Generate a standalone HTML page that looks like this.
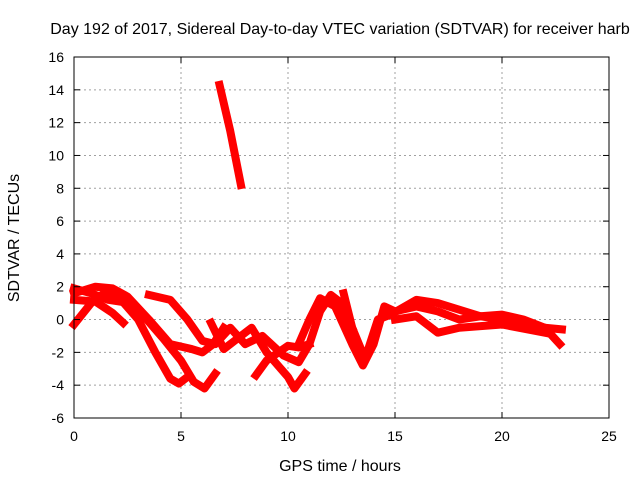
<!DOCTYPE html>
<html><head><meta charset="utf-8"><style>
body{margin:0;background:#fff}
text{font-family:"Liberation Sans",sans-serif;font-size:14px;fill:#000}
.big{font-size:16px}
</style></head><body>
<svg id="c" width="640" height="480" xmlns="http://www.w3.org/2000/svg">
<rect width="640" height="480" fill="#fff"/>
<text class="big" x="340" y="34" text-anchor="middle">Day 192 of 2017, Sidereal Day-to-day VTEC variation (SDTVAR) for receiver harb</text>
<text class="big" x="340" y="471" text-anchor="middle">GPS time / hours</text>
<text class="big" transform="translate(19,238) rotate(-90)" text-anchor="middle">SDTVAR / TECUs</text>
<g id="grid"></g><g id="series"></g><g id="axes"></g>
</svg>
<script>
const xTicks=[0,5,10,15,20,25];
const yTicks=[-6,-4,-2,0,2,4,6,8,10,12,14,16];
const trace1=[[0,-0.3],[0.8,1],[1.5,1.7],[2.2,1.2],[3,0],[3.8,-2],[4.5,-3.6],[4.9,-3.9],[5.3,-3.5]];
const trace2=[[0,1.9],[0.8,1.6],[1.6,1.2],[2.6,1],[3.4,0],[4.2,-1.2],[5,-2.5],[5.6,-3.8],[6.1,-4.2],[6.6,-3.3]];
const trace3=[[0,1.6],[1,2],[1.8,1.9],[2.5,1.4],[3.5,0],[4.5,-1.5],[5.5,-1.8],[6,-2],[6.5,-1.5],[7,-0.5]];
const trace4=[[3.5,1.5],[4.5,1.2],[5.3,0],[6,-1.3],[6.6,-1.5],[7.3,-0.5],[8,-1.5],[8.8,-1],[9.8,-2.2],[10.5,-2.6],[11,-1.5],[11.5,0.5],[12,1.5],[12.5,1],[13,-0.5]];
const trace5=[[0,1.2],[1,1.1],[1.8,0.4],[2.3,-0.2]];
const trace6=[[6.4,-0.2],[7,-1.8],[7.5,-1.3],[8.3,-0.5],[9,-2],[10,-3.5],[10.3,-4.2],[10.8,-3.3]];
const trace7=[[8.5,-3.4],[9,-2.5],[10,-1.6],[10.5,-1.7],[11,-1.5]];
const trace8=[[10.5,-1.5],[11,0],[11.5,1.3],[12.2,0.8],[13,-1.5],[13.5,-2.8],[14,-1.5],[14.5,0.8],[15,0.5],[16,0.8],[17,0.5],[18,0],[19,0.2],[20,0],[21,-0.2],[22,-0.5],[22.8,-0.6]];
const trace9=[[12.6,1.6],[13,-0.5],[13.6,-2.4],[14.2,0],[14.8,0.3],[16,1.2],[17,1],[18,0.6],[19,0.2],[20,0.3],[21,0],[22,-0.5],[22.7,-1.5]];
const trace10=[[15,0],[16,0.2],[17,-0.8],[18,-0.5],[20,-0.3],[22,-0.8]];
const trace11=[[6.8,14.3],[7.3,11.5],[7.8,8.2]];
const traces=[trace1,trace2,trace3,trace4,trace5,trace6,trace7,trace8,trace9,trace10,trace11];
const X0=74,X1=609,Y0=418,Y1=57;
const sx=v=>X0+(v-0)/25*(X1-X0);
const sy=v=>Y0-(v+6)/22*(Y0-Y1);
const NS="http://www.w3.org/2000/svg";
function mk(t,a,p){const e=document.createElementNS(NS,t);for(const k in a)e.setAttribute(k,a[k]);p.appendChild(e);return e;}
const g=document.getElementById('grid'),ax=document.getElementById('axes'),s=document.getElementById('series');
xTicks.forEach(t=>{const x=sx(t);
 if(t>0&&t<25){const l=mk('line',{x1:x,x2:x,y1:Y1,y2:Y0,stroke:'#a0a0a0','stroke-dasharray':'2,3'},g);}
 mk('line',{x1:x,x2:x,y1:Y0,y2:Y0-6,stroke:'#000'},ax);mk('line',{x1:x,x2:x,y1:Y1,y2:Y1+6,stroke:'#000'},ax);
 const tx=mk('text',{x:x,y:Y0+23,'text-anchor':'middle'},ax);tx.textContent=t;
 });
yTicks.forEach(t=>{const y=sy(t);
 if(t>-6&&t<16){const l=mk('line',{x1:X0,x2:X1,y1:y,y2:y,stroke:'#a0a0a0','stroke-dasharray':'2,3'},g);}
 mk('line',{x1:X0,x2:X0+6,y1:y,y2:y,stroke:'#000'},ax);mk('line',{x1:X1,x2:X1-6,y1:y,y2:y,stroke:'#000'},ax);
 const tx=mk('text',{x:X0-10,y:y+5,'text-anchor':'end'},ax);tx.textContent=t;
 });
const fr=mk('rect',{x:X0,y:Y1,width:X1-X0,height:Y0-Y1,fill:'none',stroke:'#000'},ax);

traces.forEach(tr=>{const p=mk('polyline',{points:tr.map(d=>sx(d[0])+','+sy(d[1])).join(' '),fill:'none',stroke:'#f00','stroke-width':8,'stroke-linejoin':'round','stroke-linecap':'square'},s);
 });
</script>
</body></html>
